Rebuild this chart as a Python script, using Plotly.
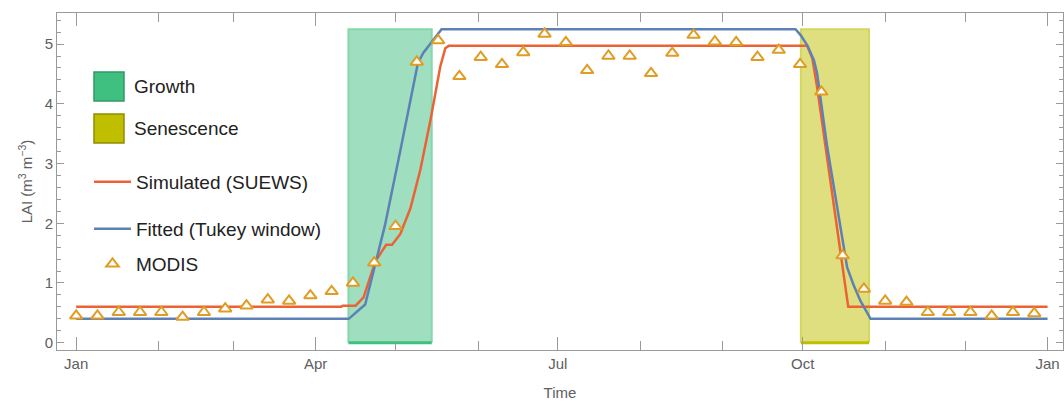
import pandas as pd
import plotly.graph_objects as go

# ---------------- data ----------------
base = pd.Timestamp("2015-01-01")

modis_doy = [1, 9, 17, 25, 33, 41, 49, 57, 65, 73, 81, 89, 97, 105, 113, 121,
             129, 137, 145, 153, 161, 169, 177, 185, 193, 201, 209, 217, 225,
             233, 241, 249, 257, 265, 273, 281, 289, 297, 305, 313, 321, 329,
             337, 345, 353, 361]
modis_lai = [0.45, 0.45, 0.51, 0.51, 0.51, 0.43, 0.51, 0.57, 0.62, 0.72,
             0.70, 0.79, 0.86, 1.00, 1.34, 1.95, 4.70, 5.06, 4.46, 4.78,
             4.66, 4.86, 5.17, 5.03, 4.56, 4.80, 4.80, 4.51, 4.85, 5.15,
             5.04, 5.03, 4.78, 4.90, 4.66, 4.20, 1.46, 0.90, 0.70, 0.68,
             0.51, 0.51, 0.51, 0.45, 0.51, 0.49]

# days since 1 Jan
sim_day = [0, 99.6, 100.2, 105, 108, 112.4, 116.5, 118.7, 121.8, 125.6, 129.3,
           133.1, 136.8, 138.7, 140, 274.7, 276.6, 278.4, 290.1, 365]
sim_lai = [0.60, 0.60, 0.62, 0.62, 0.76, 1.36, 1.64, 1.64, 1.82, 2.25, 2.89,
           3.72, 4.62, 4.93, 4.97, 4.97, 4.76, 4.28, 0.60, 0.60]

fit_day = [0, 102.4, 108.6, 112.5, 116, 121.6, 128.4, 130.4, 137.3, 270.3,
           272.2, 274.7, 277.2, 278.4, 282.2, 287.2, 289.7, 292, 294.7, 298.5, 365]
fit_lai = [0.40, 0.40, 0.64, 1.36, 1.96, 3.17, 4.68, 4.85, 5.25, 5.25,
           5.15, 4.98, 4.73, 4.51, 3.28, 1.93, 1.26, 0.98, 0.70, 0.40, 0.40]

growth_period = [102.3, 133.6]
senescence_period = [272.3, 297.9]
period_top = 5.25

month_ticks = ["2015-01-01", "2015-04-01", "2015-07-01", "2015-10-01", "2016-01-01"]
month_labels = ["Jan", "Apr", "Jul", "Oct", "Jan"]

# ---------------- helpers ----------------
def to_date(days):
    return [base + pd.Timedelta(days=float(d)) for d in days]

BLUE = "#5E81B5"
ORANGE = "#E19C24"
RED = "#EB6235"
GREEN = "#40C080"
OLIVE = "#BFBF00"
AXIS = "#9a9a9a"
FONT = "Liberation Sans, Arial, sans-serif"

fig = go.Figure()

# period rectangles
for per, fill, edge, bottom in [
    (growth_period, "rgba(64,192,128,0.5)", "#84d6ac", GREEN),
    (senescence_period, "rgba(191,191,0,0.5)", "#d3d660", OLIVE),
]:
    s, e = per
    fig.add_trace(go.Scatter(
        x=to_date([s, s, e, e]), y=[0, period_top, period_top, 0],
        mode="lines", fill="toself", fillcolor=fill,
        line=dict(color=edge, width=2), showlegend=False, hoverinfo="skip"))
    fig.add_trace(go.Scatter(
        x=to_date([s, e]), y=[0, 0], mode="lines",
        line=dict(color=bottom, width=3), showlegend=False, hoverinfo="skip"))

fig.add_trace(go.Scatter(
    x=to_date(sim_day), y=sim_lai, mode="lines", name="Simulated (SUEWS)",
    line=dict(color=RED, width=2.5), legend="legend"))
fig.add_trace(go.Scatter(
    x=to_date(fit_day), y=fit_lai, mode="lines", name="Fitted (Tukey window)",
    line=dict(color=BLUE, width=2.5), legend="legend2"))
fig.add_trace(go.Scatter(
    x=to_date([d - 1 for d in modis_doy]), y=modis_lai, mode="markers", name="MODIS",
    marker=dict(symbol="triangle-up", size=11, color="white",
                line=dict(color=ORANGE, width=2)), legend="legend3"))

# ---------------- layout ----------------
W, H = 1064, 402
ml, mr, mt, mb = 57, 1, 13, 52
pw, ph = W - ml - mr, H - mt - mb

def px_x(px):
    return (px - ml) / pw

def px_y(py):
    return (H - mb - py) / ph

legend_common = dict(
    font=dict(family=FONT, size=19, color="#222222"),
    bgcolor="rgba(0,0,0,0)", borderwidth=0, xanchor="left", yanchor="middle",
    itemwidth=37, tracegroupgap=0,
)

shapes = []
annotations = []
for (y0, y1), fill, edge, label in [
    ((72, 101), GREEN, "#2e9a66", "Growth"),
    ((114, 143), OLIVE, "#8f8f00", "Senescence"),
]:
    shapes.append(dict(type="rect", xref="paper", yref="paper",
                       x0=px_x(94), x1=px_x(124), y0=px_y(y1), y1=px_y(y0),
                       fillcolor=fill, line=dict(color=edge, width=1.5), layer="above"))
    annotations.append(dict(xref="paper", yref="paper", x=px_x(132), y=px_y((y0 + y1) / 2),
                            xanchor="left", yanchor="middle", showarrow=False, text=label,
                            font=dict(family=FONT, size=19, color="#222222")))

fig.update_layout(
    width=W, height=H,
    margin=dict(l=ml, r=mr, t=mt, b=mb, pad=0, autoexpand=False),
    paper_bgcolor="white", plot_bgcolor="white",
    font=dict(family=FONT, size=15, color="#606060"),
    showlegend=True,
    legend=dict(x=px_x(89), y=px_y(182), **legend_common),
    legend2=dict(x=px_x(89), y=px_y(229), **legend_common),
    legend3=dict(x=px_x(89), y=px_y(264), **legend_common),
    shapes=shapes, annotations=annotations,
    xaxis=dict(
        type="date", automargin=False,
        range=[base - pd.Timedelta(days=7.2), base + pd.Timedelta(days=370.8)],
        tickvals=month_ticks, ticktext=month_labels,
        ticks="inside", ticklen=13, tickwidth=1, tickcolor=AXIS,
        minor=dict(dtick="M1", tick0="2015-01-01", ticks="inside", ticklen=9,
                   tickwidth=1, tickcolor=AXIS, showgrid=False),
        showline=True, linecolor=AXIS, linewidth=1, mirror="allticks",
        showgrid=False, zeroline=False,
        tickfont=dict(family=FONT, size=15, color="#606060"),
        title=dict(text="Time", font=dict(family=FONT, size=15, color="#606060"), standoff=16),
    ),
    yaxis=dict(
        automargin=False,
        range=[-0.122, 5.52], tick0=0, dtick=1,
        ticks="inside", ticklen=7, tickwidth=1, tickcolor=AXIS,
        minor=dict(dtick=0.2, tick0=0, ticks="inside", ticklen=4, tickwidth=1,
                   tickcolor=AXIS, showgrid=False),
        showline=True, linecolor=AXIS, linewidth=1, mirror="allticks",
        showgrid=False, zeroline=False,
        tickfont=dict(family=FONT, size=15, color="#606060"),
        title=dict(text="LAI (m<sup>3</sup> m<sup>−3</sup>)",
                   font=dict(family=FONT, size=15, color="#606060"), standoff=8),
    ),
)

fig.write_html(
    "out.html",
    config={"displayModeBar": False},
    post_script="document.body.style.margin='0';document.body.style.overflow='hidden';",
)
